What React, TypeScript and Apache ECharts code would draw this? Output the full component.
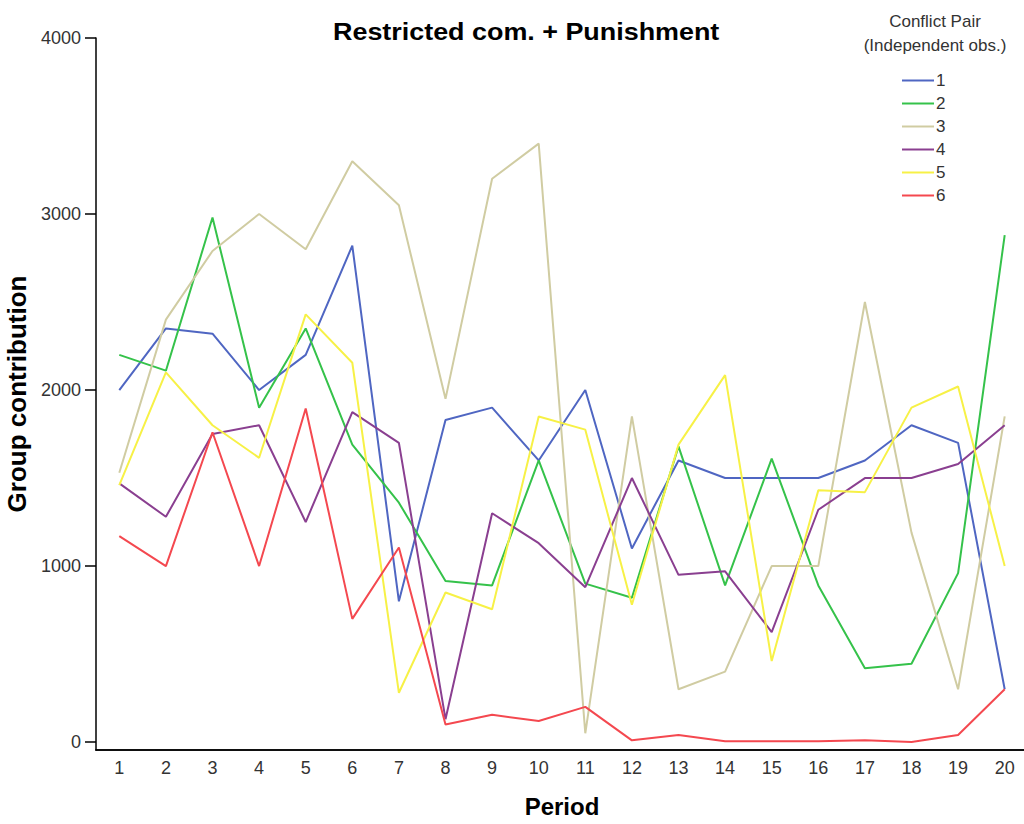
import React, { useEffect, useRef } from "react";
import * as echarts from "echarts";

const periods = ["1","2","3","4","5","6","7","8","9","10","11","12","13","14","15","16","17","18","19","20"];
const seriesNames = ["1", "2", "3", "4", "5", "6"];
const pair1 = [2000, 2350, 2320, 2000, 2200, 2820, 800, 1830, 1900, 1600, 2000, 1100, 1600, 1500, 1500, 1500, 1600, 1800, 1700, 300];
const pair2 = [2200, 2110, 2980, 1900, 2350, 1690, 1360, 915, 890, 1600, 900, 820, 1680, 890, 1610, 890, 420, 445, 960, 2880];
const pair3 = [1530, 2400, 2790, 3000, 2800, 3300, 3050, 1950, 3200, 3400, 50, 1850, 300, 400, 1000, 1000, 2500, 1190, 300, 1850];
const pair4 = [1470, 1280, 1750, 1800, 1250, 1875, 1700, 130, 1300, 1130, 880, 1500, 950, 970, 625, 1320, 1500, 1500, 1580, 1800];
const pair5 = [1460, 2100, 1800, 1615, 2430, 2155, 280, 850, 755, 1850, 1775, 780, 1690, 2085, 460, 1430, 1420, 1900, 2020, 1000];
const pair6 = [1170, 1000, 1760, 1000, 1895, 700, 1105, 100, 155, 120, 200, 10, 40, 5, 5, 5, 10, 0, 40, 300];
const colors = ["#4f66c2", "#35c24a", "#d0cca2", "#8a3f90", "#f7f146", "#f4484f"];
const yTicks = [0, 1000, 2000, 3000, 4000];

export default function App() {
  const ref = useRef<HTMLDivElement>(null);
  useEffect(() => {
    if (!ref.current) return;
    const chart = echarts.init(ref.current, null, { renderer: "svg" });
    const data = [pair1, pair2, pair3, pair4, pair5, pair6];
    const font = "Liberation Sans, Arial, sans-serif";
    const baseX = {
      type: "category",
      data: periods,
      boundaryGap: true,
      axisLine: { onZero: false, lineStyle: { color: "#000", width: 1.5 } },
    };
    chart.setOption({
      animation: false,
      backgroundColor: "#fff",
      graphic: [
        {
          type: "text", x: 333, y: 32, scaleX: 1.17,
          style: {
            text: "Restricted com. + Punishment", fontFamily: font, fontSize: 23, fontWeight: "bold",
            fill: "#000", align: "left", verticalAlign: "middle",
          },
        },
        {
          type: "text", x: 935, y: 13,
          style: { text: "Conflict Pair", fontFamily: font, fontSize: 17, fill: "#333", align: "center" },
        },
        {
          type: "text", x: 935, y: 37,
          style: { text: "(Independent obs.)", fontFamily: font, fontSize: 17, fill: "#333", align: "center" },
        },
      ],
      legend: {
        orient: "vertical",
        left: 896,
        top: 67,
        itemWidth: 32,
        itemHeight: 14,
        itemGap: 6,
        itemStyle: { opacity: 0 },
        textStyle: { fontFamily: font, fontSize: 17, color: "#333", padding: [0, 0, 0, -3] },
        data: seriesNames,
      },
      grid: { left: 96, right: -4, top: 38, bottom: 74, outerBoundsMode: "none", containLabel: false },
      xAxis: [
        {
          ...baseX,
          name: "Period",
          nameLocation: "middle",
          nameGap: 44,
          nameTextStyle: { fontFamily: font, fontSize: 24, fontWeight: "bold", color: "#000" },
          axisTick: { alignWithLabel: true, length: 6, lineStyle: { color: "#000", width: 1.5 } },
          axisLabel: { fontFamily: font, fontSize: 18, color: "#333", margin: 9 },
        },
        {
          ...baseX,
          position: "bottom",
          axisTick: { alignWithLabel: true, inside: true, length: 5, lineStyle: { color: "#000", width: 1.5 } },
          axisLabel: { show: false },
        },
      ],
      yAxis: {
        type: "value",
        min: -45,
        max: yTicks[yTicks.length - 1],
        name: "Group contribution",
        nameLocation: "middle",
        nameGap: 60,
        nameTextStyle: { fontFamily: font, fontSize: 26, fontWeight: "bold", color: "#000" },
        axisLine: { show: true, lineStyle: { color: "#000", width: 1.5 } },
        axisTick: { show: true, length: 11, customValues: yTicks, lineStyle: { color: "#000", width: 1.5 } },
        axisLabel: { fontFamily: font, fontSize: 18, color: "#333", margin: 15, customValues: yTicks, formatter: (v: number) => String(v) },
        splitLine: { show: false },
      },
      series: data.map((d, i) => ({
        name: seriesNames[i],
        type: "line",
        data: d,
        symbol: "none",
        color: colors[i],
        lineStyle: { width: 2, color: colors[i] },
        z: 2 + i,
      })),
    });
    return () => chart.dispose();
  }, []);
  return <div ref={ref} style={{ position: "absolute", left: 0, top: 0, width: 1024, height: 824 }} />;
}
